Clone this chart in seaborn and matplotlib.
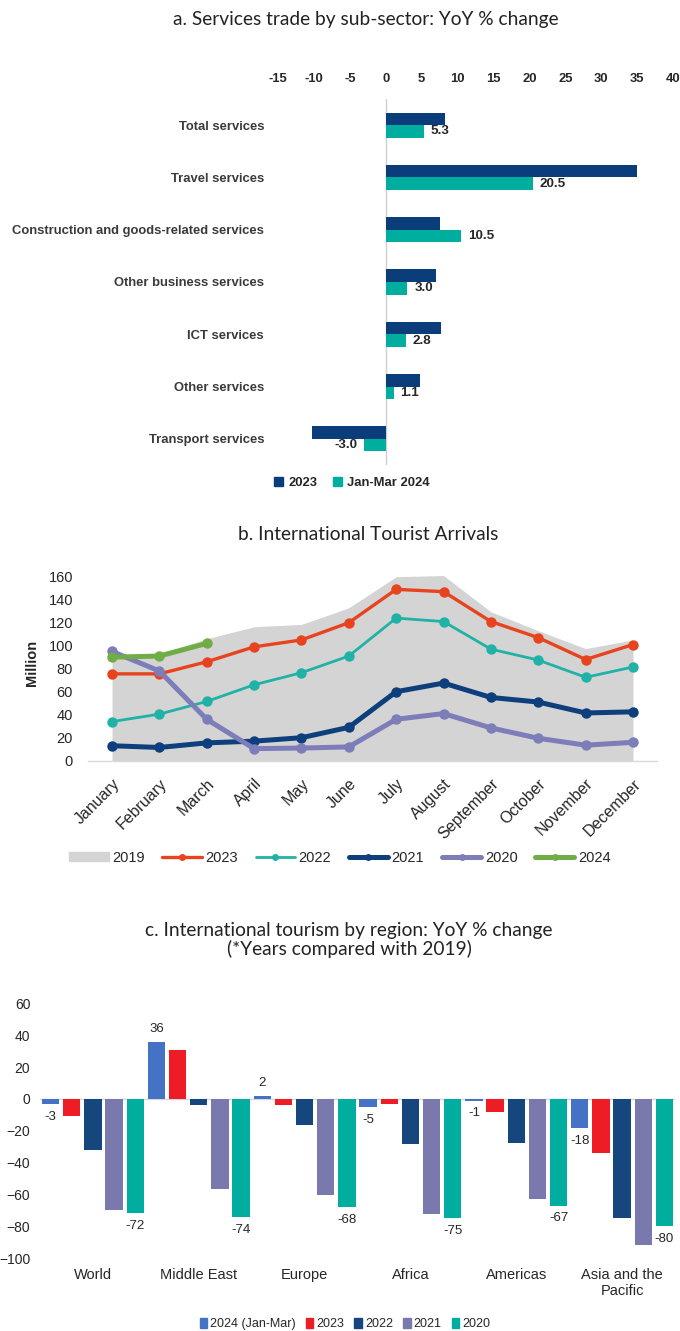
import numpy as np
import pandas as pd
import matplotlib
matplotlib.use('Agg')
import matplotlib.pyplot as plt
from matplotlib import font_manager
from matplotlib.patches import Patch
from matplotlib.lines import Line2D
import seaborn as sns

# --- data: panel a (services trade, YoY %) ---
sectors = ['Total services', 'Travel services', 'Construction and goods-related services',
           'Other business services', 'ICT services', 'Other services', 'Transport services']
trade_2023 = [8.3, 35.0, 7.6, 7.0, 7.7, 4.8, -10.3]
trade_q1_2024 = [5.3, 20.5, 10.5, 3.0, 2.8, 1.1, -3.0]

# --- data: panel b (international tourist arrivals, million) ---
months = ['January', 'February', 'March', 'April', 'May', 'June', 'July',
          'August', 'September', 'October', 'November', 'December']
arr_2019 = [92, 93, 106, 116.5, 118.5, 133, 160, 161, 129.5, 113, 97.5, 105]
arr_2023 = [75.5, 75.5, 86, 99, 105, 120, 149, 147, 121, 107, 88, 101]
arr_2022 = [34, 40.5, 51.5, 66, 76.5, 91, 124, 121, 97, 87.5, 72.5, 81.5]
arr_2021 = [13, 11.5, 15.5, 17, 20, 29, 60, 67.5, 55, 51, 41.5, 42.5]
arr_2020 = [95, 78, 36, 10.5, 11, 12, 36, 41, 28.5, 19.5, 13.5, 16]
arr_2024 = [90, 91, 102]

# --- data: panel c (tourism by region, % vs 2019) ---
regions = ['World', 'Middle East', 'Europe', 'Africa', 'Americas', 'Asia and the\nPacific']
reg_years = ['2024 (Jan-Mar)', '2023', '2022', '2021', '2020']
reg_2024 = [-3, 36, 2, -5, -1, -18]
reg_2023 = [-11, 31, -3.5, -3, -8.5, -34]
reg_2022 = [-32, -3.5, -16.5, -28.5, -28, -75]
reg_2021 = [-70, -56.5, -60.5, -72.5, -63, -92]
reg_2020 = [-72, -74, -68, -75, -67, -80]

sns.set_theme(style='white')
names = {f.name for f in font_manager.fontManager.ttflist}
if 'Liberation Sans Narrow' in names:
    NARROW, a_size, a_lab = 'Liberation Sans Narrow', 10.7, 11.2
else:
    NARROW, a_size, a_lab = 'Liberation Sans', 9.4, 9.7
plt.rcParams['font.family'] = ['Liberation Sans', 'DejaVu Sans']
TITLE_FONT = ['Lato', 'DejaVu Sans']

fig = plt.figure(figsize=(6.8, 13.31), dpi=100)
W, H = 680, 1331


def box(x0, y0, x1, y1):
    # pixel box (top-left origin) -> figure coords
    return [x0 / W, 1 - y1 / H, (x1 - x0) / W, (y1 - y0) / H]


# ================= panel a =================
ax_a = fig.add_axes(box(278, 99, 673, 465))
df_a = pd.DataFrame({
    'sector': sectors * 2,
    'value': trade_2023 + trade_q1_2024,
    'period': ['2023'] * len(sectors) + ['Jan-Mar 2024'] * len(sectors),
})
pal_a = {'2023': '#0B3D7B', 'Jan-Mar 2024': '#00AEA0'}
sns.barplot(data=df_a, y='sector', x='value', hue='period', orient='h', order=sectors,
            palette=pal_a, width=0.48, errorbar=None, legend=False, ax=ax_a,
            saturation=1, edgecolor='none')
ax_a.set_xlim(-15, 40)
ax_a.set_ylim(6.5, -0.5)
ax_a.axvline(0, color='#d0d0d0', lw=1, zorder=0)
ax_a.xaxis.tick_top()
ax_a.set_xticks(np.arange(-15, 41, 5))
ax_a.set_xticklabels([str(v) for v in range(-15, 41, 5)])
ax_a.tick_params(axis='x', length=0, pad=10, labelsize=a_size, colors='#262626')
ax_a.tick_params(axis='y', length=0, pad=10, labelsize=a_size, colors='#3a3a3a')
for lab in ax_a.get_xticklabels() + ax_a.get_yticklabels():
    lab.set_family([NARROW, 'DejaVu Sans'])
    lab.set_fontweight('bold')
ax_a.set_xlabel('')
ax_a.set_ylabel('')
for s in ax_a.spines.values():
    s.set_visible(False)
ax_a.bar_label(ax_a.containers[1], fmt='%.1f', padding=5, fontsize=a_lab,
               fontweight='bold', family=[NARROW, 'DejaVu Sans'], color='#262626')

fig.legend(handles=[Patch(color=pal_a[k], label=k) for k in pal_a],
           loc='center', bbox_to_anchor=(352 / W, 1 - 483 / H), ncol=2, frameon=False,
           handlelength=0.7, handleheight=0.7, handletextpad=0.4, columnspacing=1.2,
           prop={'family': [NARROW, 'DejaVu Sans'], 'weight': 'bold', 'size': a_size})
fig.text(366 / W, 1 - 20 / H, 'a. Services trade by sub-sector: YoY % change',
         ha='center', va='center', fontsize=13.8, family=TITLE_FONT, color='#222222')

# ================= panel b =================
ax_b = fig.add_axes(box(88.3, 565.2, 656.7, 760.7))
idx = np.arange(len(months))
ax_b.fill_between(idx, 0, arr_2019, color='#d4d4d4', lw=0, zorder=1)
series_b = [
    ('2023', arr_2023, '#E8431F', 2.4),
    ('2022', arr_2022, '#20B2A6', 2.0),
    ('2021', arr_2021, '#0D3F7C', 3.6),
    ('2020', arr_2020, '#7C7DB9', 3.6),
    ('2024', arr_2024, '#70AD47', 3.6),
]
for name, vals, col, lw in series_b:
    sns.lineplot(x=idx[:len(vals)], y=vals, ax=ax_b, color=col, lw=lw, marker='o',
                 markersize=7.5, markeredgewidth=0, zorder=3)
ax_b.set_xlim(-0.5, 11.5)
ax_b.set_ylim(0, 170)
ax_b.set_yticks(np.arange(0, 161, 20))
ax_b.set_xticks(idx)
ax_b.set_xticklabels(months, rotation=45, ha='right', va='top', rotation_mode='anchor')
ax_b.tick_params(axis='y', length=0, pad=11, labelsize=10.5, colors='#262626')
ax_b.tick_params(axis='x', length=0, pad=11, labelsize=11.5, colors='#262626')
ax_b.set_ylabel('Million', fontsize=10.5, fontweight='bold', color='#262626')
ax_b.set_xlabel('')
for k in ['top', 'right', 'left']:
    ax_b.spines[k].set_visible(False)
ax_b.spines['bottom'].set_color('#d9d9d9')
ax_b.spines['bottom'].set_linewidth(1)
ax_b.yaxis.set_label_coords(-0.087, 0.5)

handles_b = [Patch(color='#d4d4d4', label='2019')]
for name, vals, col, lw in series_b:
    handles_b.append(Line2D([0], [0], color=col, lw=lw, marker='o', markersize=5,
                            markeredgewidth=0, label=name))
fig.legend(handles=handles_b, loc='center', bbox_to_anchor=(340 / W, 1 - 858 / H), ncol=6,
           frameon=False, handlelength=2.7, handleheight=0.55, handletextpad=0.25,
           columnspacing=1.2, fontsize=10.5)
fig.text(368 / W, 1 - 535 / H, 'b. International Tourist Arrivals', ha='center', va='center',
         fontsize=13.8, family=TITLE_FONT, color='#222222')

# ================= panel c =================
ax_c = fig.add_axes(box(40, 1003.5, 675, 1258))
vals_c = [reg_2024, reg_2023, reg_2022, reg_2021, reg_2020]
df_c = pd.DataFrame({
    'region': regions * len(reg_years),
    'change': sum(vals_c, []),
    'year': [y for y in reg_years for _ in regions],
})
pal_c = dict(zip(reg_years, ['#4472C4', '#EE1C25', '#15477E', '#7A79AE', '#00AD9F']))
sns.barplot(data=df_c, x='region', y='change', hue='year', order=regions, hue_order=reg_years,
            palette=pal_c, width=1.0, gap=0.18, errorbar=None, legend=False, ax=ax_c,
            saturation=1, edgecolor='none')
ax_c.axhline(0, color='#d9d9d9', lw=1, zorder=0)
ax_c.set_xlim(-0.5, 5.5)
ax_c.set_ylim(-100, 60)
ax_c.set_yticks(np.arange(-100, 61, 20))
ax_c.tick_params(axis='y', length=0, pad=7, labelsize=10, colors='#262626')
ax_c.tick_params(axis='x', length=0, pad=7, labelsize=10.5, colors='#262626')
ax_c.set_xlabel('')
ax_c.set_ylabel('')
for s in ax_c.spines.values():
    s.set_visible(False)
for ci in (0, 4):
    ax_c.bar_label(ax_c.containers[ci], fmt='%.0f', padding=5, fontsize=9.5, color='#262626')

fig.legend(handles=[Patch(color=pal_c[k], label=k) for k in reg_years],
           loc='center', bbox_to_anchor=(345 / W, 1 - 1324 / H), ncol=5, frameon=False,
           handlelength=0.6, handleheight=0.9, handletextpad=0.25, columnspacing=0.8,
           fontsize=9)
fig.text(349 / W, 1 - 940 / H,
         'c. International tourism by region: YoY % change\n(*Years compared with 2019)',
         ha='center', va='center', fontsize=13.8, family=TITLE_FONT, color='#222222',
         linespacing=1.1)

fig.savefig('out.png', dpi=100)
